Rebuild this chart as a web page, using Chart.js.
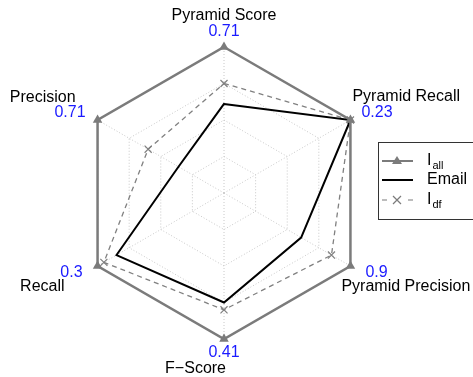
<!DOCTYPE html>
<html>
<head>
<meta charset="utf-8">
<title>Radar</title>
<script src="https://cdn.jsdelivr.net/npm/chart.js@4/dist/chart.umd.min.js"></script>
<style>
  html, body { margin: 0; padding: 0; background: #fff; }
  canvas { display: block; }
</style>
</head>
<body>
<canvas id="myChart" width="473" height="377"></canvas>
<script>
// оси по часовой стрелке, начиная сверху
const metrics = ["Pyramid Score", "Pyramid Recall", "Pyramid Precision", "F\u2212Score", "Recall", "Precision"];
// лучшее значение по каждой оси (подписи синим)
const bestValues = [0.71, 0.23, 0.9, 0.41, 0.3, 0.71];
// значения серий в долях от лучшего
const iAll = [0.71, 0.23, 0.9, 0.41, 0.3, 0.71];
const emailShare = [0.61, 1.0, 0.61, 0.75, 0.85, 0.36];
const iDfShare = [0.75, 1.0, 0.85, 0.80, 0.95, 0.60];
const gridTicks = [0, 0.25, 0.5, 0.75, 1];

const GRAY = "#7b7b7b";
const FONT = "16px 'Liberation Sans', Arial, sans-serif";

// где рисовать подписи относительно вершины: [dx, dy, выравнивание] для имени и для числа
const labelPlace = [
    { name: [0, -31, "center"], value: [0, -15, "center"] },
    { name: [2, -23, "left"], value: [11, -7, "left"] },
    { name: [-9, 21, "left"], value: [15, 7, "left"] },
    { name: [2, 30, "right"], value: [0, 14, "center"] },
    { name: [-33, 21, "right"], value: [-15, 7, "right"] },
    { name: [-22, -22, "right"], value: [-12, -7, "right"] },
];

const axisLabels = {
    id: "axisLabels",
    afterDraw(chart) {
        const scale = chart.scales.r;
        const ctx = chart.ctx;
        ctx.save();
        ctx.font = FONT;
        ctx.textBaseline = "middle";
        metrics.forEach((name, i) => {
            const p = scale.getPointPosition(i, scale.drawingArea);
            const pl = labelPlace[i];
            ctx.fillStyle = "#000";
            ctx.textAlign = pl.name[2];
            ctx.fillText(name, p.x + pl.name[0], p.y + pl.name[1]);
            ctx.fillStyle = "#1a1aff";
            ctx.textAlign = pl.value[2];
            ctx.fillText(String(bestValues[i]), p.x + pl.value[0], p.y + pl.value[1]);
        });
        ctx.restore();
    },
};

// легенда с подстрочными индексами
const sideLegend = {
    id: "sideLegend",
    afterDraw(chart) {
        const ctx = chart.ctx;
        const box = { x: 378, y: 142, w: 110, h: 77 };
        ctx.save();
        ctx.strokeStyle = "#333";
        ctx.lineWidth = 1;
        ctx.strokeRect(box.x + 0.5, box.y + 0.5, box.w, box.h);

        const x0 = 382, x1 = 413, tx = 427;
        const rows = [161, 180, 200];

        // I_all
        ctx.strokeStyle = GRAY;
        ctx.lineWidth = 2;
        ctx.setLineDash([]);
        ctx.beginPath();
        ctx.moveTo(x0, rows[0]);
        ctx.lineTo(x1, rows[0]);
        ctx.stroke();
        ctx.fillStyle = GRAY;
        ctx.beginPath();
        ctx.moveTo(397, rows[0] - 5);
        ctx.lineTo(402, rows[0] + 3);
        ctx.lineTo(392, rows[0] + 3);
        ctx.closePath();
        ctx.fill();

        // Email
        ctx.strokeStyle = "#000";
        ctx.lineWidth = 2;
        ctx.beginPath();
        ctx.moveTo(x0, rows[1]);
        ctx.lineTo(x1, rows[1]);
        ctx.stroke();

        // I_df
        ctx.strokeStyle = GRAY;
        ctx.lineWidth = 1.2;
        ctx.beginPath();
        ctx.moveTo(x0, rows[2]); ctx.lineTo(x0 + 5, rows[2]);
        ctx.moveTo(x1 - 5, rows[2]); ctx.lineTo(x1, rows[2]);
        ctx.moveTo(393, rows[2] - 4); ctx.lineTo(401, rows[2] + 4);
        ctx.moveTo(401, rows[2] - 4); ctx.lineTo(393, rows[2] + 4);
        ctx.stroke();

        ctx.fillStyle = "#000";
        ctx.textBaseline = "middle";
        ctx.textAlign = "left";
        const sub = (main, small, y) => {
            ctx.font = FONT;
            ctx.fillText(main, tx, y);
            const w = ctx.measureText(main).width;
            ctx.font = "11px 'Liberation Sans', Arial, sans-serif";
            ctx.fillText(small, tx + w + 1, y + 5);
        };
        sub("I", "all", rows[0]);
        ctx.font = FONT;
        ctx.fillText("Email", tx, rows[1]);
        sub("I", "df", rows[2]);
        ctx.restore();
    },
};

const ctx = document.getElementById("myChart").getContext("2d");
new Chart(ctx, {
    type: "radar",
    data: {
        labels: metrics,
        datasets: [
            {
                label: "Iall",
                data: iAll.map((v, i) => v / bestValues[i]),
                borderColor: GRAY,
                backgroundColor: GRAY,
                borderWidth: 2.5,
                pointStyle: "triangle",
                pointRadius: 5.5,
                pointBorderWidth: 0,
                fill: false,
            },
            {
                label: "Email",
                data: emailShare,
                borderColor: "#000",
                borderWidth: 2,
                pointRadius: 0,
                fill: false,
            },
            {
                label: "Idf",
                data: iDfShare,
                borderColor: "#808080",
                backgroundColor: "#808080",
                borderWidth: 1.3,
                borderDash: [5, 4],
                pointStyle: "crossRot",
                pointRadius: 5,
                pointBorderWidth: 1.2,
                pointBorderColor: "#808080",
                fill: false,
            },
        ],
    },
    options: {
        responsive: false,
        animation: false,
        layout: { padding: { left: 78, right: 103, top: 47, bottom: 38 } },
        elements: { line: { tension: 0 } },
        plugins: {
            legend: { display: false },
            tooltip: { enabled: false },
        },
        scales: {
            r: {
                min: 0,
                max: 1,
                afterBuildTicks: (axis) => {
                    axis.ticks = gridTicks.map(v => ({ value: v }));
                },
                ticks: { display: false },
                pointLabels: { display: false },
                grid: { color: "#c8c8c8", lineWidth: 1, circular: false },
                border: { dash: [1, 2] },
                angleLines: { color: "#c8c8c8", lineWidth: 1, borderDash: [1, 2] },
            },
        },
    },
    plugins: [axisLabels, sideLegend],
});
</script>
</body>
</html>
